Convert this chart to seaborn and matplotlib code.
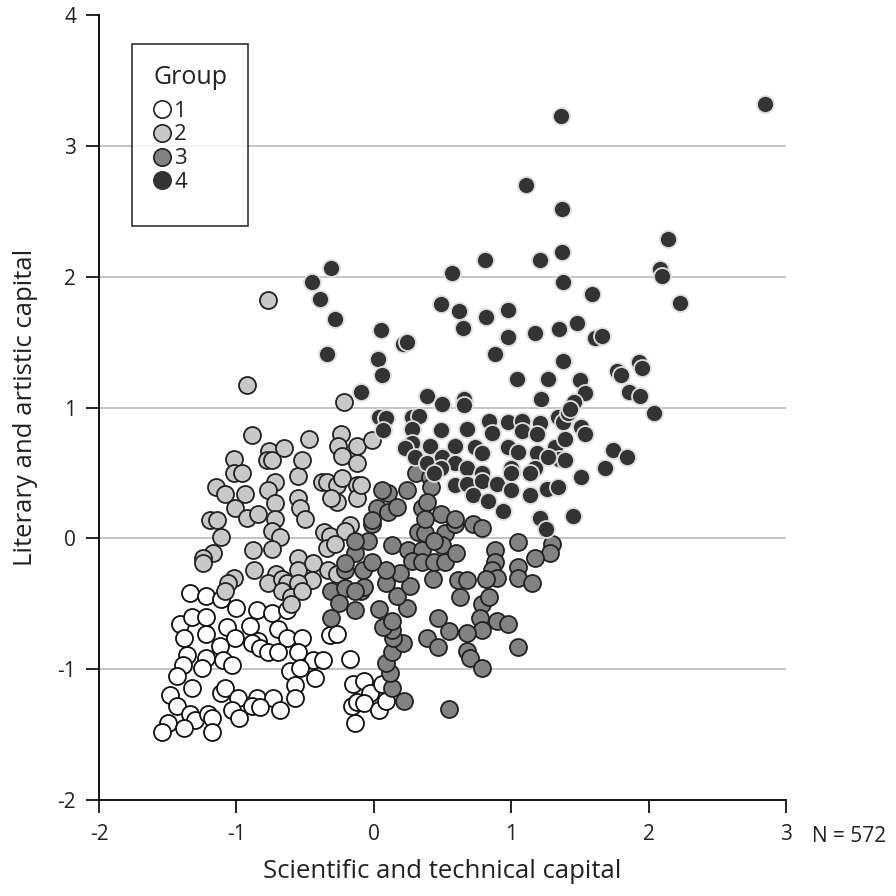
import matplotlib
matplotlib.use("Agg")
import matplotlib.pyplot as plt
from matplotlib.lines import Line2D
import numpy as np
import pandas as pd
import seaborn as sns

# Group 1: low on both kinds of capital
g1_x = [-1.34, -1.22, -1.11, -1.00, -0.85, -0.74, -0.63, -1.41, -1.32, -1.22,
        -1.07, -0.90, -0.70, -1.38, -1.22, -1.01, -1.12, -0.84, -0.63, -0.52,
        -0.89, -0.83, -0.77, -0.70, -1.36, -1.22, -1.10, -1.03, -0.55, -0.44,
        -0.37, -0.32, -0.27, -0.17, -1.39, -1.43, -1.25, -0.61, -0.54, -0.43,
        -1.32, -1.11, -1.08, -0.99, -0.85, -0.73, -0.57, -0.57, -1.48, -1.43,
        -1.34, -1.30, -1.21, -1.18, -1.03, -0.98, -0.89, -0.83, -0.68, -1.50,
        -1.54, -1.38, -1.18, -0.15, -0.16, -0.12, -0.14, -0.07, -0.03, 0.06,
        -0.07, 0.04, 0.09]
g1_y = [-0.42, -0.44, -0.46, -0.53, -0.55, -0.57, -0.55, -0.65, -0.60, -0.60,
        -0.68, -0.67, -0.69, -0.76, -0.73, -0.76, -0.82, -0.78, -0.76, -0.76,
        -0.80, -0.84, -0.87, -0.87, -0.89, -0.91, -0.93, -0.97, -0.87, -0.93,
        -0.93, -0.74, -0.73, -0.92, -0.97, -1.05, -0.99, -1.01, -0.99, -1.07,
        -1.14, -1.18, -1.14, -1.22, -1.22, -1.22, -1.12, -1.22, -1.20, -1.28,
        -1.34, -1.39, -1.34, -1.37, -1.31, -1.37, -1.28, -1.29, -1.31, -1.41,
        -1.48, -1.45, -1.48, -1.11, -1.28, -1.25, -1.41, -1.09, -1.18, -1.11,
        -1.26, -1.31, -1.24]

# Group 2: moderate literary capital, low scientific capital
g2_x = [-0.77, -0.92, -0.22, -0.89, -0.76, -0.78, -0.74, -0.65, -0.47, -0.24,
        -0.26, -0.23, -0.12, -0.12, -1.02, -1.02, -0.96, -1.15, -1.08, -0.94,
        -0.72, -0.77, -0.72, -0.55, -0.52, -1.01, -0.92, -0.84, -0.72, -0.55,
        -0.54, -0.50, -0.38, -0.34, -0.27, -0.23, -0.12, -0.27, -0.31, -0.12,
        -1.19, -1.14, -0.17, -1.11, -0.74, -0.68, -0.36, -0.32, -0.21, -0.88,
        -0.74, -1.17, -1.24, -1.24, -0.87, -0.71, -1.02, -1.06, -1.08, -0.77,
        -0.67, -0.63, -0.55, -0.55, -0.44, -0.45, -0.55, -0.67, -0.60, -0.52,
        -0.34, -0.28, -0.33, -0.27, -0.60, -0.01, -0.09]
g2_y = [1.82, 1.17, 1.04, 0.79, 0.67, 0.60, 0.60, 0.69, 0.76, 0.80,
        0.71, 0.63, 0.71, 0.58, 0.61, 0.50, 0.50, 0.39, 0.34, 0.34,
        0.43, 0.37, 0.27, 0.48, 0.60, 0.23, 0.16, 0.19, 0.15, 0.31,
        0.23, 0.15, 0.43, 0.43, 0.41, 0.46, 0.41, 0.28, 0.31, 0.31,
        0.14, 0.14, 0.10, 0.01, 0.06, 0.01, 0.05, 0.02, 0.06, -0.09,
        -0.08, -0.11, -0.15, -0.19, -0.24, -0.27, -0.30, -0.34, -0.40, -0.34,
        -0.31, -0.34, -0.15, -0.24, -0.19, -0.32, -0.34, -0.40, -0.45, -0.40,
        -0.07, -0.04, -0.24, -0.27, -0.50, 0.75, 0.41]

# Group 3: moderate scientific capital, low literary capital
g3_x = [-0.01, 0.32, 0.52, 0.59, 0.72, 0.79, 1.05, 1.30, 1.28, 1.17,
        0.88, 0.88, 0.86, 0.90, 0.82, 1.05, 1.05, 1.15, 0.61, 0.68,
        0.63, 0.79, 0.84, 0.77, 0.90, 0.98, 0.79, 0.68, 0.55, 0.47,
        0.39, 0.47, 0.68, 0.70, 0.79, 1.05, 0.55, 0.22, 0.13, 0.12,
        0.09, 0.13, 0.21, 0.14, 0.13, 0.07, 0.13, 0.04, 0.24, 0.17,
        -0.14, -0.09, -0.07, 0.09, 0.26, 0.43, 0.19, 0.09, -0.08, -0.01,
        -0.04, 0.13, 0.25, 0.35, 0.28, 0.35, 0.44, 0.52, 0.50, 0.60,
        0.37, 0.44, -0.14, -0.14, -0.21, -0.31, -0.21, -0.25, -0.31, -0.14,
        -0.21, 0.31, 0.41, 0.10, 0.06, 0.24, 0.42, 0.02, 0.10, 0.17,
        0.35, 0.39, -0.01, 0.49, 0.59, 0.37]
g3_y = [0.11, 0.05, 0.04, 0.11, 0.11, 0.08, -0.03, -0.04, -0.11, -0.15,
        -0.09, -0.18, -0.24, -0.30, -0.31, -0.22, -0.30, -0.34, -0.32, -0.32,
        -0.45, -0.50, -0.45, -0.61, -0.63, -0.65, -0.70, -0.72, -0.71, -0.61,
        -0.76, -0.83, -0.86, -0.91, -0.99, -0.83, -1.30, -1.24, -1.14, -1.03,
        -0.95, -0.87, -0.80, -0.76, -0.70, -0.68, -0.63, -0.54, -0.53, -0.44,
        -0.55, -0.40, -0.37, -0.34, -0.36, -0.31, -0.26, -0.24, -0.24, -0.18,
        -0.02, -0.05, -0.09, -0.09, -0.17, -0.18, -0.18, -0.18, -0.05, -0.11,
        0.04, -0.02, -0.11, -0.02, -0.24, -0.40, -0.38, -0.49, -0.61, -0.40,
        -0.19, 0.50, 0.47, 0.35, 0.37, 0.37, 0.39, 0.23, 0.20, 0.24,
        0.23, 0.28, 0.14, 0.19, 0.15, 0.15]

# Group 4: high on both kinds of capital
g4_x = [2.85, 1.36, 1.11, 1.37, 2.14, 1.37, 0.57, 1.21, 0.81, 2.08,
        2.10, 1.38, -0.31, -0.45, -0.39, -0.28, 2.23, 0.49, 0.62, 0.65,
        1.59, 0.98, 0.82, 1.17, 1.35, 1.48, 1.61, 1.66, 0.05, 0.21,
        0.24, 0.03, 0.06, -0.09, -0.34, 0.98, 0.88, 1.38, 1.04, 1.27,
        1.22, 0.39, 0.50, 0.66, 0.66, 0.04, 0.09, 0.28, 0.33, 0.07,
        0.28, 0.49, 0.68, 0.84, 0.86, 0.98, 1.08, 1.08, 1.21, 1.19,
        1.34, 1.38, 1.41, 0.28, 0.23, 0.41, 0.59, 0.74, 0.79, 0.98,
        1.05, 1.19, 1.32, 1.35, 0.30, 0.39, 0.50, 0.59, 0.68, 0.79,
        1.00, 1.00, 1.17, 1.14, 1.27, 0.59, 0.68, 0.79, 0.90, 1.00,
        1.14, 1.26, 1.34, 0.72, 0.83, 0.94, 1.21, 1.25, 1.45, 0.49,
        0.44, 1.77, 1.80, 1.93, 1.95, 1.50, 1.54, 1.46, 1.86, 1.94,
        1.43, 2.04, 1.51, 1.54, 1.39, 1.74, 1.84, 1.39, 1.68, 1.51]
g4_y = [3.32, 3.23, 2.70, 2.52, 2.29, 2.19, 2.03, 2.13, 2.13, 2.06,
        2.01, 1.96, 2.07, 1.96, 1.83, 1.68, 1.80, 1.79, 1.74, 1.61,
        1.87, 1.75, 1.69, 1.57, 1.60, 1.65, 1.53, 1.55, 1.59, 1.49,
        1.50, 1.37, 1.25, 1.12, 1.41, 1.54, 1.41, 1.36, 1.22, 1.22,
        1.07, 1.09, 1.03, 1.07, 1.02, 0.93, 0.92, 0.93, 0.94, 0.83,
        0.84, 0.83, 0.84, 0.90, 0.81, 0.89, 0.90, 0.82, 0.88, 0.80,
        0.93, 0.89, 0.96, 0.73, 0.69, 0.71, 0.71, 0.70, 0.65, 0.70,
        0.66, 0.65, 0.70, 0.61, 0.62, 0.58, 0.62, 0.58, 0.54, 0.50,
        0.54, 0.50, 0.54, 0.50, 0.62, 0.41, 0.42, 0.44, 0.42, 0.37,
        0.33, 0.38, 0.39, 0.33, 0.29, 0.21, 0.16, 0.07, 0.17, 0.54,
        0.50, 1.28, 1.25, 1.35, 1.30, 1.21, 1.11, 1.04, 1.12, 1.09,
        0.99, 0.96, 0.85, 0.80, 0.76, 0.68, 0.62, 0.60, 0.54, 0.47]

groups = ["1", "2", "3", "4"]
fill_colors = {"1": "#ffffff", "2": "#c8c8c8", "3": "#828282", "4": "#333333"}
edge_colors = {"1": "#111111", "2": "#222222", "3": "#222222", "4": "#dddddd"}

frames = []
for g, xs, ys in zip(groups, [g1_x, g2_x, g3_x, g4_x], [g1_y, g2_y, g3_y, g4_y]):
    frames.append(pd.DataFrame({"sci": xs, "lit": ys, "group": g}))
df = pd.concat(frames, ignore_index=True)

sns.set_theme(style="white")
plt.rcParams["font.family"] = ["Open Sans", "DejaVu Sans"]
plt.rcParams["text.color"] = "black"
plt.rcParams["axes.labelcolor"] = "black"
plt.rcParams["xtick.color"] = "black"
plt.rcParams["ytick.color"] = "black"

fig = plt.figure(figsize=(8.96, 8.96), dpi=100)
ax = fig.add_axes([0.1105, 0.107, 0.7667, 0.876])

# horizontal reference lines
for yv in [-1, 0, 1, 2, 3]:
    ax.axhline(yv, color="#c4c4c4", lw=1.4, zorder=0)

for g in groups:
    sub = df[df["group"] == g]
    sns.scatterplot(data=sub, x="sci", y="lit", ax=ax, s=150,
                    color=fill_colors[g], edgecolor=edge_colors[g],
                    linewidth=1.3, legend=False, zorder=3)

ax.set_xlim(-2, 3)
ax.set_ylim(-2, 4)
ax.set_xticks([-2, -1, 0, 1, 2, 3])
ax.set_yticks([-2, -1, 0, 1, 2, 3, 4])
ax.set_xticklabels(["-2", "-1", "0", "1", "2", "3"])
ax.set_yticklabels(["-2", "-1", "0", "1", "2", "3", "4"])
ax.tick_params(axis="both", direction="out", length=9.5, width=1.2,
               color="black", labelcolor="#222222", labelsize=15,
               left=True, bottom=True)
ax.tick_params(axis="x", pad=8)
ax.tick_params(axis="y", pad=7)

for side in ["top", "right"]:
    ax.spines[side].set_visible(False)
for side in ["left", "bottom"]:
    ax.spines[side].set_color("black")
    ax.spines[side].set_linewidth(1.3)

ax.set_xlabel("Scientific and technical capital", fontsize=18.5,
              labelpad=10, color="#222222")
ax.set_ylabel("Literary and artistic capital", fontsize=18.5,
              labelpad=14, color="#222222")

fig.text(812 / 896, 1 - 836 / 896, "N = 572", fontsize=15,
         ha="left", va="center", color="#222222")

handles = [Line2D([0], [0], marker="o", linestyle="none", markersize=12.5,
                  markerfacecolor=fill_colors[g],
                  markeredgecolor="#222222" if g != "4" else "#333333",
                  markeredgewidth=1.2, label=g) for g in groups]
# blank spacer row keeps the frame's lower margin open
handles.append(Line2D([0], [0], linestyle="none", label=" "))
leg = ax.legend(handles=handles, title="Group", loc="upper left",
                bbox_to_anchor=(0.048, 0.963), borderaxespad=0,
                fontsize=16, title_fontsize=18, frameon=True, fancybox=False,
                alignment="left", handlelength=0.8, handletextpad=0.15,
                labelspacing=0.13, borderpad=0.95)
# wider gap between the title and the first entry
leg._legend_box.sep = 7.3
leg.get_texts()[-1].set_fontsize(5)
try:
    spacer_row = leg._legend_handle_box.get_children()[0].get_children()[-1]
    spacer_row.get_children()[0].height = 5
except Exception:
    pass
leg.get_frame().set_edgecolor("black")
leg.get_frame().set_linewidth(1.2)
leg.set_zorder(5)
for t in leg.get_texts():
    t.set_color("#222222")
leg.get_title().set_color("#222222")

fig.savefig("out.png", dpi=100)
